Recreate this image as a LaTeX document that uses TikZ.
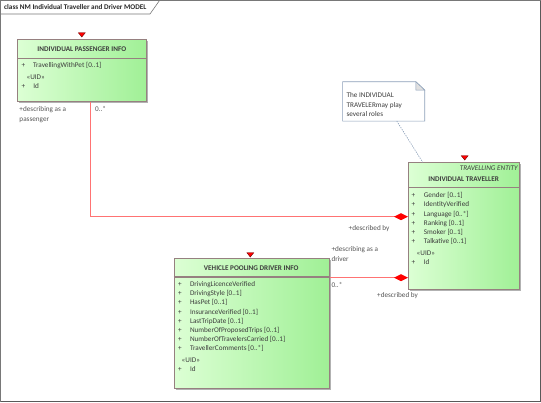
\documentclass[tikz,border=0pt]{standalone}
\usepackage{fontspec}
\setmainfont{Carlito}
\usetikzlibrary{arrows.meta,calc,shadows}
\definecolor{boxborder}{RGB}{150,128,128}
\definecolor{boxleft}{RGB}{220,255,212}
\definecolor{boxright}{RGB}{160,240,150}
\definecolor{txt}{RGB}{60,60,60}
\definecolor{lbl}{RGB}{85,85,85}
\definecolor{assocred}{RGB}{255,115,115}
\definecolor{notebd}{RGB}{140,160,185}
\definecolor{framegray}{RGB}{120,120,120}
\newcommand\attrrow[5]{%
  \node[attr] (#1p) at (#2,#4) {+};
  \node[attr] (#1n) at (#3,#4) {#5};}
\begin{document}
\begin{tikzpicture}[x=1pt,y=-1pt,
  every node/.style={font=\fontsize{7.2}{9}\selectfont, text=txt, inner sep=0pt},
  classbox/.style={draw=boxborder, line width=1.1pt, left color=boxleft, right color=boxright,
    anchor=north west, rectangle,
    drop shadow={shadow xshift=1.6pt, shadow yshift=-1.6pt, fill=black!30, opacity=1}},
  divider/.style={draw=boxborder, line width=1.1pt},
  attr/.style={anchor=west, text height=5.2pt, text depth=1.6pt},
  ctitle/.style={font=\fontsize{7.2}{9}\selectfont\bfseries, text height=5.2pt, text depth=1.6pt},
  lab/.style={anchor=west, text=lbl, text height=5.2pt, text depth=1.6pt},
  assoc/.style={draw=assocred, line width=1pt, -{Diamond[length=14pt,width=7pt,fill=red,color=red]}},
  marker/.style={fill=red, draw=black!60!red, line width=0.4pt},
  notelink/.style={draw=notebd, line width=0.7pt, dash pattern=on 1.2pt off 1.2pt}
]
\useasboundingbox (0,0) rectangle (541,402);
% frame
\draw[framegray, line width=0.8pt] (0.5,0.5) rectangle (540.3,401.3);
\draw[black!65, line width=1.4pt] (540.2,0.5) -- (540.2,401.2) -- (0.5,401.2);
\draw[framegray, line width=0.6pt] (0.5,14) -- (150,14) -- (159.5,0.5);
\node[anchor=west, font=\fontsize{7.2}{9}\selectfont\bfseries, text=black!85, text height=5.2pt, text depth=1.6pt] (frametitle) at (4,7.3) {class NM Individual Traveller and Driver MODEL};

% class boxes
\node[classbox, minimum width=129pt, minimum height=62.5pt] (pass) at (17.3,38.5) {};
\node[classbox, minimum width=111.3pt, minimum height=126.4pt] (trav) at (408,162.3) {};
\node[classbox, minimum width=155pt, minimum height=129.7pt] (veh) at (173.6,258) {};
\draw[divider] ($(pass.north west)+(0,19.8)$) -- ($(pass.north east)+(0,19.8)$);
\draw[divider] ($(trav.north west)+(0,25.4)$) -- ($(trav.north east)+(0,25.4)$);
\draw[divider] ($(veh.north west)+(0,19)$) -- ($(veh.north east)+(0,19)$);

% markers
\draw[marker] (78.3,32.7) -- (85.3,32.7) -- (81.8,37) -- cycle;
\draw[marker] (461.2,155.7) -- (468.2,155.7) -- (464.7,160) -- cycle;
\draw[marker] (246.8,252.7) -- (253.8,252.7) -- (250.3,257) -- cycle;

% passenger
\node[ctitle] (passtitle) at (81.8,49.3) {INDIVIDUAL PASSENGER INFO};
\attrrow{pa}{21.5}{32.8}{65.3}{TravellingWithPet [0..1]}
\node[attr] (pauid) at (26.4,77.3) {«UID»};
\attrrow{pb}{21.5}{33.1}{86.7}{Id}

% traveller
\node[anchor=east, font=\fontsize{7.2}{9}\selectfont\itshape, text height=5.2pt, text depth=1.6pt] (travster) at (517.8,168.3) {TRAVELLING ENTITY};
\node[ctitle] (travtitle) at (463.6,180) {INDIVIDUAL TRAVELLER};
\attrrow{ta}{411.5}{423.7}{195.7}{Gender [0..1]}
\attrrow{tb}{411.5}{423.7}{205}{IdentityVerified}
\attrrow{tc}{411.5}{423.7}{214.3}{Language [0..*]}
\attrrow{td}{411.5}{423.7}{223.3}{Ranking [0..1]}
\attrrow{te}{411.5}{423.7}{232.5}{Smoker [0..1]}
\attrrow{tf}{411.5}{423.7}{241.7}{Talkative [0..1]}
\node[attr] (tuid) at (416.5,253.3) {«UID»};
\attrrow{tg}{411.5}{423.7}{262.7}{Id}

% vehicle
\node[ctitle] (vehtitle) at (251.2,268.5) {VEHICLE POOLING DRIVER INFO};
\attrrow{va}{178}{189.8}{284.3}{DrivingLicenceVerified}
\attrrow{vb}{178}{189.8}{293.7}{DrivingStyle [0..1]}
\attrrow{vc}{178}{189.8}{303}{HasPet [0..1]}
\attrrow{vd}{178}{189.8}{312.3}{InsuranceVerified [0..1]}
\attrrow{ve}{178}{189.8}{321.7}{LastTripDate [0..1]}
\attrrow{vf}{178}{189.8}{331}{NumberOfProposedTrips [0..1]}
\attrrow{vg}{178}{189.8}{339.9}{NumberOfTravelersCarried [0..1]}
\attrrow{vh}{178}{189.8}{349}{TravellerComments [0..*]}
\node[attr] (vuid) at (181.5,360.7) {«UID»};
\attrrow{vi}{178}{189.8}{370}{Id}

% note
\node[anchor=north west, minimum width=81.8pt, minimum height=39pt] (note) at (342.6,81.7) {};
\filldraw[fill=white, draw=notebd, line width=0.7pt] (note.north west) -- ($(note.north east)+(-9,0)$) -- ($(note.north east)+(0,8.5)$) -- (note.south east) -- (note.south west) -- cycle;
\filldraw[fill=black!12, draw=notebd, line width=0.5pt] ($(note.north east)+(-9,0)$) -- ($(note.north east)+(-9,8.5)$) -- ($(note.north east)+(0,8.5)$) -- cycle;
\node[attr] (nt1) at (346.4,96) {The INDIVIDUAL};
\node[attr] (nt2) at (346.4,105.3) {TRAVELERmay play};
\node[attr] (nt3) at (346.4,114.2) {several roles};
\draw[notelink] ($(note.south west)+(54.2,0)$) -- ($(trav.north west)+(14.7,0)$);

% connectors
\coordinate (bend1) at (90.4,216.7);
\coordinate (c2) at (0,277.7);
\draw[assoc] (pass.south -| bend1) |- (trav.west |- bend1);
\draw[assoc] (veh.east |- c2) -- (trav.west |- c2);

% connector labels
\node[lab] (l1a) at (19.3,110) {+describing as a};
\node[lab] (l1b) at (19.3,119.3) {passenger};
\node[lab] (l1c) at (95,110) {0..*};
\node[lab] (l1d) at (348.5,228.7) {+described by};
\node[lab] (l2a) at (331.3,250) {+describing as a};
\node[lab] (l2b) at (331.3,259.3) {driver};
\node[lab] (l2c) at (331.3,285.7) {0..*};
\node[lab] (l2d) at (377,295.3) {+described by};
\end{tikzpicture}
\end{document}
